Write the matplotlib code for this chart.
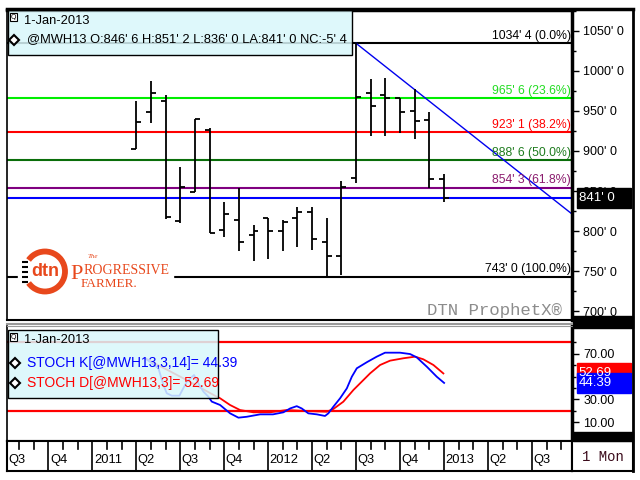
import matplotlib
matplotlib.use("Agg")
import matplotlib.pyplot as plt
import matplotlib.transforms as mtransforms
from matplotlib.patches import Rectangle, Arc
from matplotlib.ticker import FuncFormatter
from matplotlib import font_manager

# -------------------------
# Datos (meses contados desde ene-2011 = 0)
# -------------------------
meses = list(range(3, 25))  # abr-2011 .. ene-2013
aperturas = [902.5, 949.1, 962.1, 812.0, 849.2, 926.2, 801.3, 813.8, 795.1, 815.9, 800.1,
             816.7, 823.4, 786.0, 768.9, 866.6, 972.1, 970.0, 965.7, 950.0, 938.7, 864.6]
maximos = [962.4, 987.8, 970.3, 879.6, 940.3, 928.3, 835.9, 854.1, 807.6, 815.9, 813.8,
           830.4, 830.4, 816.7, 862.5, 1034.5, 989.5, 991.5, 965.8, 977.0, 949.1, 870.9]
minimos = [902.5, 934.6, 815.4, 810.4, 849.2, 798.0, 792.2, 775.5, 762.6, 764.7, 775.5,
           779.7, 776.3, 743.0, 745.1, 860.4, 919.1, 919.1, 922.8, 915.3, 854.1, 836.0]
cierres = [936.6, 972.8, 818.0, 855.4, 940.3, 798.0, 821.7, 786.7, 800.1, 800.1, 810.9,
           823.4, 789.7, 768.9, 855.4, 967.1, 956.6, 965.7, 948.7, 937.5, 864.6, 841.0]

niveles_fib = [1034.5, 965.75, 923.125, 888.75, 854.375, 743.0]
etiquetas_fib = ["1034' 4 (0.0%)", "965' 6 (23.6%)", "923' 1 (38.2%)",
                 "888' 6 (50.0%)", "854' 3 (61.8%)", "743' 0 (100.0%)"]
colores_fib = ["black", "#00ee00", "#ff0000", "#0a6e0a", "#800080", "black"]
colores_txt_fib = ["black", "#22dd22", "#ff0000", "#1e7b1e", "#8b1c6e", "black"]
ultimo = 841.0

tendencia_x = [18.0, 32.74]
tendencia_y = [1034.5, 821.3]

k_x = [3.60, 4.51, 4.85, 5.08, 5.42, 5.94, 6.44, 6.94, 7.24, 7.58, 7.92, 8.15, 8.72, 9.40,
       9.97, 10.54, 11.45, 12.33, 13.04, 13.50, 13.95, 14.29, 14.74, 15.32, 15.88, 16.11,
       16.45, 16.91, 17.37, 17.71, 18.05, 18.73, 19.41, 19.98, 21.00, 21.69, 22.14, 22.83,
       23.51, 24.01]
k_v = [66, 57.2, 42.5, 35.3, 33.2, 33.2, 45.4, 51.3, 44, 36.7, 32.3, 28, 25, 17.7, 13.9,
       14.7, 16.8, 16.8, 18.6, 22, 24, 22, 17.7, 16.8, 15.4, 17.7, 23.5, 30.9, 39.6, 49.8,
       57.2, 62.5, 67.4, 70.9, 70.9, 69.7, 66.8, 58.6, 49.8, 44.39]
d_x = [3.60, 6.20, 8.49, 8.72, 9.40, 10.08, 10.99, 12.13, 13.27, 14.63, 16.00, 16.45, 17.13,
       17.82, 18.50, 18.96, 19.64, 20.32, 21.23, 22.03, 22.59, 23.28, 23.96]
d_v = [66, 48.5, 32.3, 30.9, 25, 20.6, 18.6, 18.6, 20.6, 19.7, 19.1, 21.5, 27.9, 38.2, 46.9,
       52.8, 60.1, 63.9, 66, 67.4, 65.1, 60.1, 52.69]

trimestres = list(range(-6, 31, 3))
etiquetas_trim = ["Q3", "Q4", "2011", "Q2", "Q3", "Q4", "2012", "Q2", "Q3", "Q4", "2013", "Q2", "Q3"]

# -------------------------
# Fuentes
# -------------------------
nombres = {f.name for f in font_manager.fontManager.ttflist}
ANGOSTA = "Liberation Sans Narrow" in nombres
FUENTE = "Liberation Sans Narrow" if ANGOSTA else "Liberation Sans"
esc = 1.2 if ANGOSTA else 1.0
TAM_EJE = 9 * esc
TAM_FIB = 8.8 * esc
TAM_LEY = 9.3 * esc
TAM_LEY2 = 10 * esc
plt.rcParams["font.family"] = [FUENTE, "DejaVu Sans"]

fig = plt.figure(figsize=(6.4, 4.8), dpi=100)


def caja(izq, arr, der, aba):
    return [izq / 640, 1 - aba / 480, (der - izq) / 640, (aba - arr) / 480]


XMIN, XMAX = -5.8, 32.74

# -------------------------
# Panel de precios
# -------------------------
ax = fig.add_axes(caja(7.4, 10, 572, 320))
ax.set_xlim(XMIN, XMAX)
ax.set_ylim(688.9, 1076.1)

for nivel, col in zip(niveles_fib, colores_fib):
    ax.axhline(nivel, color=col, lw=1.5, zorder=1)
ax.axhline(ultimo, color="#0000ff", lw=1.5, zorder=1)
for nivel, etq, col in zip(niveles_fib, etiquetas_fib, colores_txt_fib):
    ax.text(32.66, nivel + 1.5, etq, color=col, ha="right", va="bottom", fontsize=TAM_FIB, zorder=3)

ax.plot(tendencia_x, tendencia_y, color="#0000ee", lw=1.0, zorder=2)

for m, o, h, l, c in zip(meses, aperturas, maximos, minimos, cierres):
    ax.vlines(m, l, h, color="black", lw=1.3, zorder=4)
    ax.hlines(o, m - 0.34, m, color="black", lw=1.3, zorder=4)
    ax.hlines(c, m, m + 0.34, color="black", lw=1.3, zorder=4)

ax.set_xticks([])
ax.yaxis.tick_right()
ax.set_yticks(range(700, 1051, 50))
ax.set_yticks(range(725, 1076, 50), minor=True)
ax.yaxis.set_major_formatter(FuncFormatter(lambda v, p: f"{int(v)}' 0"))
ax.tick_params(axis="y", which="major", direction="out", length=5, width=1, pad=3, labelsize=TAM_EJE)
ax.tick_params(axis="y", which="minor", direction="out", length=3, width=1)
ax.spines["right"].set_linewidth(2.5)
ax.spines["top"].set_linewidth(2.5)
ax.spines["left"].set_linewidth(1.2)
ax.spines["bottom"].set_linewidth(1.5)

mezcla = mtransforms.blended_transform_factory(ax.transAxes, ax.transData)
ax.add_patch(Rectangle((1.008, ultimo - 12.2), 0.096, 24.5, transform=mezcla,
                       color="black", clip_on=False, zorder=5))
ax.text(1.012, ultimo, "841' 0", transform=mezcla, color="white", va="center", ha="left",
        fontsize=TAM_EJE + 0.5, zorder=6, clip_on=False)

# -------------------------
# Panel estocástico
# -------------------------
ax2 = fig.add_axes(caja(7.4, 326, 572, 440.7))
ax2.set_xlim(XMIN, XMAX)
ax2.set_ylim(-6.3, 94.3)
ax2.axhline(80, color="#ff0000", lw=1.6)
ax2.axhline(20, color="#ff0000", lw=1.6)
ax2.plot(d_x, d_v, color="#ff0000", lw=1.3)
ax2.plot(k_x, k_v, color="#0000ff", lw=1.3)
ax2.set_xticks([])
ax2.yaxis.tick_right()
ax2.set_yticks([10, 30, 70])
ax2.set_yticks([20, 40, 50, 60, 80], minor=True)
ax2.yaxis.set_major_formatter(FuncFormatter(lambda v, p: f"{v:.2f}"))
ax2.tick_params(axis="y", which="major", direction="out", length=5, width=1, pad=3, labelsize=TAM_EJE)
ax2.tick_params(axis="y", which="minor", direction="out", length=3, width=1)
ax2.spines["right"].set_linewidth(2.5)
ax2.spines["top"].set_color("#999999")
ax2.spines["left"].set_linewidth(1.2)
ax2.spines["bottom"].set_linewidth(1.5)

mezcla2 = mtransforms.blended_transform_factory(ax2.transAxes, ax2.transData)
for valor, col in [(d_v[-1], "#ff0000"), (k_v[-1], "#0000ff")]:
    ax2.add_patch(Rectangle((1.008, valor - 8.8), 0.096, 17.6, transform=mezcla2,
                            color=col, clip_on=False, zorder=5))
    ax2.text(1.012, valor, f"{valor:.2f}", transform=mezcla2, color="white", va="center",
             ha="left", fontsize=TAM_EJE + 0.5, zorder=6, clip_on=False)

# -------------------------
# Eje de fechas
# -------------------------
ax3 = fig.add_axes(caja(7.4, 440.7, 572, 470.7))
ax3.set_xlim(XMIN, XMAX)
ax3.set_ylim(0, 1)
ax3.set_xticks([])
ax3.set_yticks([])
for pos in trimestres:
    ax3.axvline(pos, color="black", lw=1.2)
for m in range(-5, 33):
    if m % 3 != 0:
        ax3.plot([m, m], [1, 0.72], color="black", lw=1.2)
for pos, etq in zip(trimestres, etiquetas_trim):
    ax3.text(max(pos, XMIN) + 0.1, 0.36, etq, ha="left", va="center", fontsize=TAM_EJE + 0.3)
for s in ax3.spines.values():
    s.set_linewidth(1.5)

ax4 = fig.add_axes(caja(572, 440.7, 633, 470.7))
ax4.set_xticks([])
ax4.set_yticks([])
ax4.text(0.5, 0.47, "1 Mon", ha="center", va="center", family="Liberation Mono",
         fontsize=10, color="#3b0b1b")
for s in ax4.spines.values():
    s.set_linewidth(1.5)

# -------------------------
# Capa de adornos en píxeles
# -------------------------
ov = fig.add_axes([0, 0, 1, 1], zorder=10)
ov.set_xlim(0, 640)
ov.set_ylim(480, 0)
ov.axis("off")

ov.plot([633, 633], [8.5, 471], color="black", lw=2)
ov.plot([7, 633], [9, 9], color="black", lw=2.5)
ov.add_patch(Rectangle((573, 316), 60, 12, color="black"))
ov.add_patch(Rectangle((573, 432), 60, 8.7, color="black"))
ov.plot([7.4, 572], [323.5, 323.5], color="#9a9a9a", lw=1.5)

cian = (0.85, 0.97, 0.985, 0.85)

# leyenda superior
ov.add_patch(Rectangle((8, 10), 343.7, 45, fc=cian, ec="black", lw=1))
ov.add_patch(Rectangle((10, 13), 7, 8, fc="white", ec="black", lw=0.8))
ov.text(13.5, 17, "Q", ha="center", va="center", fontsize=5, family="DejaVu Sans")
ov.text(24, 20.5, "1-Jan-2013", va="center", fontsize=TAM_LEY)
ov.plot([14], [39.5], marker="D", ms=5, mfc="white", mec="black", mew=1.5)
ov.text(27, 39.5, "@MWH13 O:846' 6 H:851' 2 L:836' 0 LA:841' 0 NC:-5' 4", va="center",
        fontsize=TAM_LEY)

# leyenda inferior
ov.add_patch(Rectangle((8, 330), 210, 67.5, fc=cian, ec="black", lw=1))
ov.add_patch(Rectangle((10, 332.5), 7, 8, fc="white", ec="black", lw=0.8))
ov.text(13.5, 336.5, "Q", ha="center", va="center", fontsize=5, family="DejaVu Sans")
ov.text(24, 340, "1-Jan-2013", va="center", fontsize=TAM_LEY)
ov.plot([15], [362.7], marker="D", ms=5, mfc="white", mec="black", mew=1.5)
ov.text(27, 362.7, "STOCH K[@MWH13,3,14]= 44.39", va="center", color="#0000ff", fontsize=TAM_LEY2)
ov.plot([15], [383.3], marker="D", ms=5, mfc="white", mec="black", mew=1.5)
ov.text(27, 383.3, "STOCH D[@MWH13,3]= 52.69", va="center", color="#ff0000", fontsize=TAM_LEY2)

# marca de agua
ov.text(562, 310, "DTN ProphetX\u00ae", ha="right", va="center", family="Liberation Mono",
        fontsize=12.5, color="#8c8c8c")

# logo
naranja = "#e8481c"
ov.add_patch(Rectangle((18, 247), 155, 46, color="white"))
ov.add_patch(Arc((45, 271.5), 40, 40, theta1=-145, theta2=145, color=naranja, lw=4.2))
for yy in [262, 267, 272, 277, 282]:
    ov.plot([22, 28], [yy, yy], color="black", lw=1.5, solid_capstyle="butt")
ov.text(45.5, 271, "dtn", ha="center", va="center", fontsize=13, fontweight="bold",
        family="Liberation Sans", color=naranja)
ov.text(70, 279, "P", ha="left", va="baseline", family="Liberation Serif", fontsize=16,
        color=naranja)
ov.text(88, 258, "The", ha="left", va="baseline", family="Liberation Serif", fontsize=5,
        style="italic", color=naranja)
ov.text(83.5, 274, "ROGRESSIVE", ha="left", va="baseline", family="Liberation Serif",
        fontsize=10, color=naranja)
ov.text(81, 287, "FARMER.", ha="left", va="baseline", family="Liberation Serif",
        fontsize=9.5, color=naranja)

fig.savefig("out.png", dpi=100)
